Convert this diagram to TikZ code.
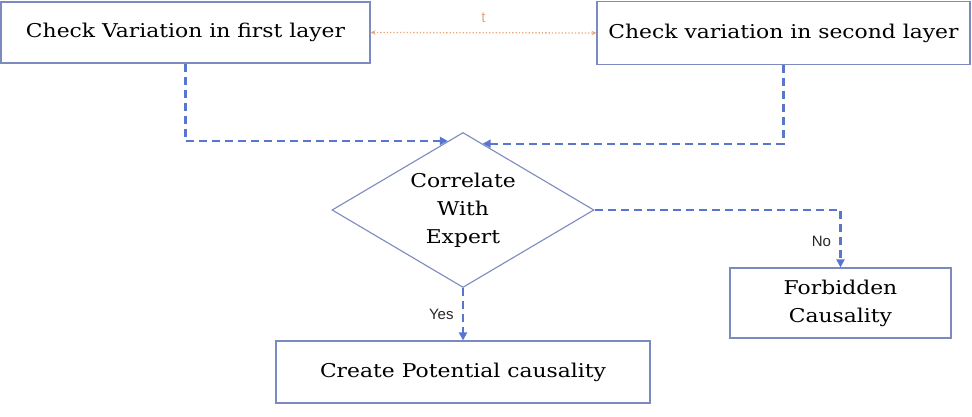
\documentclass[tikz,border=0pt]{standalone}
\usepackage{fontspec}
\setmainfont{DejaVu Serif}[FakeStretch=1.15]
\newfontfamily\labelfont{Liberation Sans}
\usetikzlibrary{shapes.geometric, arrows.meta, positioning, calc}
\definecolor{boxblue}{RGB}{125,138,192}
\definecolor{flowblue}{RGB}{88,118,206}
\definecolor{torange}{RGB}{236,166,120}
\tikzset{
  %% ---- boxes ----
  stepbox/.style = {rectangle, draw=boxblue, line width=1.1pt,
                    fill=white, align=center, inner sep=0pt,
                    font=\fontsize{19}{28}\selectfont},
  decide/.style  = {diamond, draw=boxblue, line width=1.1pt,
                    fill=white, align=center, inner sep=0pt,
                    shape aspect=1.69,
                    minimum width=262pt, minimum height=155pt,
                    font=\fontsize{19}{28}\selectfont},
  %% ---- arrows ----
  flow/.style    = {-{Triangle[length=8pt,width=8pt]}, line width=2.2pt,
                    color=flowblue, dash pattern=on 8pt off 5pt},
  tarrow/.style  = {{Stealth[length=5pt,width=4.5pt]}-{Stealth[length=5pt,width=4.5pt]},
                    line width=1.3pt, color=torange, dotted},
  lbl/.style     = {font=\labelfont\fontsize{15}{17}\selectfont, text=black!85},
}
\begin{document}
\begin{tikzpicture}[x=1pt, y=-1pt]
  \useasboundingbox (0,0) rectangle (972,417);

  %% Top row
  \node[stepbox, minimum width=369pt, minimum height=61pt]
    (first) at (185.5, 32.5) {Check Variation in first layer};
  \node[stepbox, minimum width=373pt, minimum height=63pt]
    (second) at (783.5, 33) {Check variation in second layer};
  \draw[tarrow] (first.east) -- node[lbl, text=torange, above=6pt] {t} (second.west);

  %% Decision
  \node[decide] (corr) at (463, 210) {Correlate\\With\\Expert};
  \coordinate (inL) at ($(corr.north)!0.115!(corr.west)$);
  \coordinate (inR) at ($(corr.north)!0.15!(corr.east)$);
  \draw[flow] (first.south) |- (inL);
  \draw[flow] (second.south) |- (inR);

  %% Outcomes
  \node[stepbox, minimum width=374pt, minimum height=62pt]
    (create) at (463, 372) {Create Potential causality};
  \node[stepbox, minimum width=221pt, minimum height=70pt]
    (forbid) at (840.5, 303) {Forbidden\\Causality};
  \draw[flow] (corr.south) -- node[lbl, left=5pt, pos=0.5] {Yes} (create.north);
  \draw[flow] (corr.east) -| node[lbl, left=5pt, pos=0.77] {No} (forbid.north);

\end{tikzpicture}
\end{document}
